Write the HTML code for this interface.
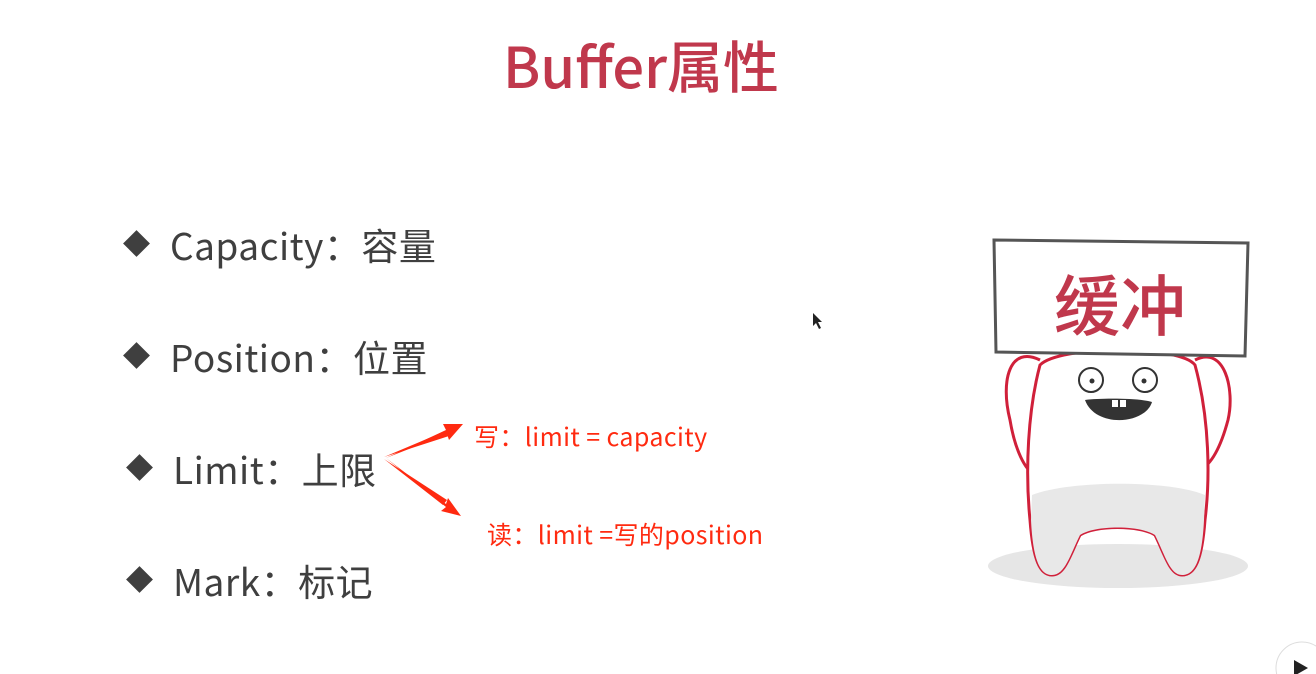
<!DOCTYPE html>
<html><head><meta charset="utf-8"><style>
body{margin:0;width:1316px;height:674px;background:#fff;position:relative;overflow:hidden;font-family:"Liberation Sans","Noto Sans CJK SC",sans-serif}
.t{position:absolute;white-space:nowrap}
.title{left:503px;top:25px;font-size:56px;color:#c0384c;font-family:"Noto Sans CJK SC",sans-serif;font-weight:500;line-height:80px}
.item{font-size:37px;color:#3f3f3f;font-family:"Noto Sans CJK SC",sans-serif;line-height:50px;letter-spacing:0.5px}
.d{position:absolute;width:19px;height:19px;background:#3f3f3f;transform:rotate(45deg)}
.red{color:#ff2a10;font-size:25px;font-family:"Noto Sans CJK SC",sans-serif;line-height:34px;letter-spacing:0.4px}
</style></head><body>
<div class="t title">Buffer属性</div>
<div class="d" style="left:127px;top:234px"></div><div class="t item" style="left:170px;top:219px">Capacity：容量</div>
<div class="d" style="left:127px;top:346px"></div><div class="t item" style="left:170px;top:331px">Position：位置</div>
<div class="d" style="left:130px;top:458px"></div><div class="t item" style="left:173px;top:443px">Limit：上限</div>
<div class="d" style="left:130px;top:570px"></div><div class="t item" style="left:173px;top:555px">Mark：标记</div>
<div class="t red" style="left:474px;top:419px">写：limit = capacity</div>
<div class="t red" style="left:487px;top:517px">读：limit =写的position</div>
<svg width="1316" height="674" style="position:absolute;left:0;top:0">
<polygon points="386,458 446,430 443,424 463,424 449,440 447,434" fill="#ff2a10"/>
<polygon points="386,458 446,504 448,498 461,516 441,511 446,507" fill="#ff2a10"/>
<polygon points="384,457 448,430 449,436" fill="#ff2a10"/>
<polygon points="384,459 447,500 443,505" fill="#ff2a10"/>
<ellipse cx="1118" cy="566" rx="130" ry="22" fill="#e6e6e6"/>
<path d="M1040,360 C1010,345 1000,380 1010,420 C1015,450 1025,470 1035,475" fill="#fff" stroke="#d0203a" stroke-width="3"/>
<path d="M1195,360 C1225,345 1235,390 1228,420 C1220,450 1210,465 1200,470" fill="#fff" stroke="#d0203a" stroke-width="3"/>
<path d="M1040,365 C1060,345 1180,345 1195,365 C1210,420 1210,480 1205,520 C1202,560 1195,575 1182,575 C1170,575 1165,555 1155,535 C1140,525 1095,525 1080,535 C1070,555 1065,575 1052,575 C1040,575 1033,560 1030,520 C1025,470 1028,410 1040,365 Z" fill="#fff" stroke="#d0203a" stroke-width="3"/>
<path d="M1032,495 C1070,480 1170,480 1205,495 L1204,520 C1202,560 1195,575 1182,575 C1170,575 1165,555 1155,535 C1140,525 1095,525 1080,535 C1070,555 1065,575 1052,575 C1040,575 1033,560 1031,520 Z" fill="#e8e8e8"/>
<circle cx="1091" cy="380" r="12" fill="#fff" stroke="#333" stroke-width="2"/><circle cx="1092" cy="381" r="2.5" fill="#333"/>
<circle cx="1145" cy="380" r="12" fill="#fff" stroke="#333" stroke-width="2"/><circle cx="1144" cy="381" r="2.5" fill="#333"/>
<path d="M1085,400 C1100,398 1140,398 1152,402 C1145,425 1095,428 1085,400 Z" fill="#333"/>
<rect x="1112" y="400" width="6" height="7" fill="#fff"/><rect x="1120" y="400" width="6" height="7" fill="#fff"/>
<path d="M994,240 L1248,243 L1245,356 L996,352 Z" fill="#fff" stroke="#555" stroke-width="3"/>
<text x="1120" y="330" text-anchor="middle" font-size="66" fill="#c0384c" font-family="Noto Sans CJK SC,sans-serif" font-weight="500">缓冲</text>
<path d="M813,313 L813,326 L816,323 L819,329 L821,328 L818,322 L822,322 Z" fill="#222"/>
<circle cx="1302" cy="668" r="26" fill="#fff" stroke="#ddd"/>
<polygon points="1294,660 1294,676 1308,668" fill="#222"/>
</svg>
</body></html>
